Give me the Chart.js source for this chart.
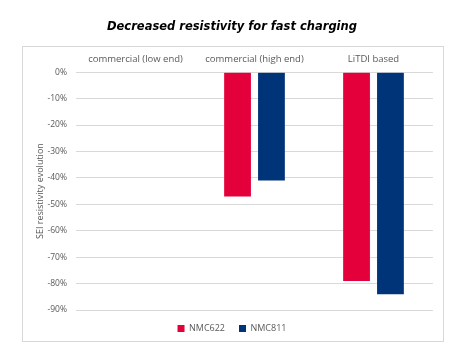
<!DOCTYPE html>
<html>
<head>
<meta charset="utf-8">
<script src="https://cdn.jsdelivr.net/npm/chart.js@4/dist/chart.umd.min.js"></script>
<style>
  body { margin: 0; background: #fff; }
  canvas { display: block; }
</style>
</head>
<body>
<canvas id="chart" width="457" height="351"></canvas>
<script>
// categories and values
const categories = ['commercial (low end)', 'commercial (high end)', 'LiTDI based'];
const nmc622 = [null, -47, -79];
const nmc811 = [null, -41, -84];
const yTicks = [0, -10, -20, -30, -40, -50, -60, -70, -80, -90];

// thin frame round the plot, like the office chart border
const frame = {
  id: 'frame',
  beforeDraw(chart) {
    const c = chart.ctx;
    c.save();
    c.strokeStyle = '#d9d9d9';
    c.lineWidth = 1;
    c.strokeRect(22.5, 46.5, 421, 295);
    c.restore();
  }
};

const ctx = document.getElementById('chart').getContext('2d');
const chart = new Chart(ctx, {
  type: 'bar',
  data: {
    labels: categories,
    datasets: [
      { label: 'NMC622', data: nmc622, backgroundColor: '#e4003b', borderColor: '#e4003b' },
      { label: 'NMC811', data: nmc811, backgroundColor: '#003479', borderColor: '#003479' }
    ]
  },
  options: {
    responsive: false,
    animation: false,
    devicePixelRatio: 1,
    categoryPercentage: 0.57,
    barPercentage: 0.79,
    layout: { padding: { left: 31, right: 24, top: 0, bottom: 8 } },
    plugins: {
      title: {
        display: true,
        text: 'Decreased resistivity for fast charging',
        color: '#000',
        font: { family: 'DejaVu Sans', size: 11.5, weight: 'bold', style: 'italic' },
        padding: { top: 20, bottom: 13 }
      },
      legend: {
        position: 'bottom',
        labels: {
          boxWidth: 7,
          boxHeight: 7,
          color: '#595959',
          font: { family: 'Open Sans', size: 9 },
          padding: 14
        }
      },
      tooltip: { enabled: false }
    },
    scales: {
      x: {
        position: 'top',
        grid: { display: false, drawTicks: false },
        border: { display: false },
        ticks: { color: '#595959', font: { family: 'Open Sans', size: 9.5 }, padding: 7 }
      },
      y: {
        min: -90,
        max: 0,
        afterBuildTicks(axis) { axis.ticks = yTicks.map(v => ({ value: v })); },
        afterFit(axis) { axis.width = 45; },
        grid: { color: '#d9d9d9', drawTicks: false },
        border: { display: false },
        ticks: {
          color: '#595959',
          font: { family: 'Open Sans', size: 8.5 },
          padding: 9,
          callback: v => v + '%'
        },
        title: {
          display: true,
          text: 'SEI resistivity evolution',
          color: '#595959',
          font: { family: 'Open Sans', size: 9 },
          padding: { top: 4, bottom: 0 }
        }
      }
    }
  },
  plugins: [frame]
});
</script>
</body>
</html>
